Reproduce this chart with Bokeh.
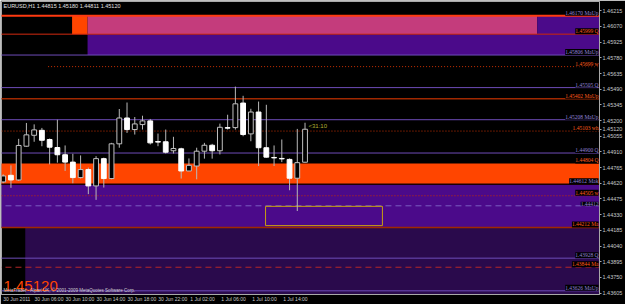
from bokeh.plotting import figure
from bokeh.models import (ColumnDataSource, Range1d, FixedTicker, PrintfTickFormatter,
                          Label, LabelSet)
from bokeh.embed import file_html
from bokeh.resources import INLINE

# ---------------- data ----------------
symbol = "EURUSD,H1"
ohlc_head = [1.44815, 1.45180, 1.44811, 1.45120]

# H1 bars, 30 Jun 2011 02:00 ... 1 Jul 2011 17:00
opens = [1.44633, 1.44694, 1.44651, 1.44963, 1.45064, 1.45110, 1.45025, 1.44951, 1.44884, 1.44816,
         1.44673, 1.44747, 1.44596, 1.44848, 1.44664, 1.44985, 1.45224, 1.45117, 1.45163, 1.45197,
         1.45006, 1.45004, 1.44921, 1.44939, 1.44734, 1.44780, 1.44917, 1.44972, 1.44921, 1.45135,
         1.45135, 1.45362, 1.45077, 1.45279, 1.44949, 1.44859, 1.44850, 1.44841, 1.44667, 1.44815]
highs = [1.44703, 1.44786, 1.45031, 1.45178, 1.45165, 1.45132, 1.45034, 1.45208, 1.44970, 1.44893,
         1.44878, 1.44765, 1.44871, 1.44857, 1.44994, 1.45307, 1.45367, 1.45233, 1.45245, 1.45215,
         1.45080, 1.45117, 1.45050, 1.44949, 1.44850, 1.44949, 1.44994, 1.44985, 1.45172, 1.45254,
         1.45514, 1.45429, 1.45309, 1.45376, 1.45346, 1.44970, 1.45025, 1.44850, 1.45123, 1.45180]
lows = [1.44621, 1.44578, 1.44642, 1.44958, 1.45004, 1.44963, 1.44795, 1.44811, 1.44734, 1.44621,
        1.44664, 1.44520, 1.44467, 1.44581, 1.44657, 1.44949, 1.45086, 1.45071, 1.45117, 1.44979,
        1.44963, 1.44896, 1.44896, 1.44664, 1.44734, 1.44657, 1.44848, 1.44848, 1.44887, 1.45117,
        1.45117, 1.45055, 1.45009, 1.44780, 1.44857, 1.44780, 1.44816, 1.44556, 1.44364, 1.44811]
closes = [1.44688, 1.44651, 1.44970, 1.45068, 1.45114, 1.45018, 1.44954, 1.44884, 1.44816, 1.44673,
          1.44747, 1.44596, 1.44848, 1.44664, 1.44985, 1.45224, 1.45117, 1.45169, 1.45197, 1.44994,
          1.45001, 1.44908, 1.44942, 1.44734, 1.44786, 1.44917, 1.44972, 1.44921, 1.45138, 1.45130,
          1.45355, 1.45071, 1.45279, 1.44949, 1.44862, 1.44855, 1.44846, 1.44667, 1.44811, 1.45120]

time_tick_bars = [0, 4, 8, 12, 16, 20, 24, 28, 32, 36]
time_tick_labels = ["30 Jun 2011", "30 Jun 06:00", "30 Jun 10:00", "30 Jun 14:00", "30 Jun 18:00",
                    "30 Jun 22:00", "1 Jul 02:00", "1 Jul 06:00", "1 Jul 10:00", "1 Jul 14:00"]

price_ticks = [1.46215, 1.46070, 1.45925, 1.45780, 1.45635, 1.45490, 1.45345, 1.45200, 1.45055,
               1.44910, 1.44765, 1.44620, 1.44475, 1.44330, 1.44185, 1.44040, 1.43895, 1.43750,
               1.43605]

# horizontal levels drawn by the indicators
level_prices = [1.46170, 1.45999, 1.45806, 1.45699, 1.45505, 1.45402, 1.45208, 1.45103, 1.44900,
                1.44804, 1.44612, 1.44505, 1.44412, 1.44212, 1.43928, 1.43844, 1.43626]
level_names = ["MaUp", "Q", "MaUp", "w", "Q", "MaUp", "MaUp", "wh", "Q",
               "Q", "Mak", "w", "", "Ma", "Q", "Ma", "MaUp"]
level_kinds = ["top", "edge", "pivot", "dot", "pivot", "ma", "pivot", "dot", "pivot",
               "none", "dark", "dot", "dashp", "ma", "pivot", "dashr", "pivot"]
level_start_bar = [-1, -1, -1, 5.8, -1, -1, -1, -1, -1,
                   -1, -1, -1, -1, -1, -1, -1, -1]

# shaded zones (start bar, end bar, top price, bottom price)
zone_left = [8.9, 10.9, 69.0, 10.9, -1, -1, 2.85]
zone_right = [10.9, 69.0, 90, 90, 90, 90, 90]
zone_top = [1.46170, 1.46170, 1.46170, 1.45999, 1.44804, 1.44612, 1.44212]
zone_bottom = [1.45999, 1.45999, 1.45999, 1.45806, 1.44612, 1.44212, 1.43500]
zone_kind = ["orange", "pink", "indigo", "indigo", "orange", "indigo", "deep"]

# yellow box (bars, prices)
box_left, box_right, box_top, box_bottom = [33.9], [49.0], [1.44407], [1.44229]

# ---------------- styles ----------------
ZONE_COLORS = {"orange": "#ff4500", "pink": "#c43c7c", "indigo": "#4b0a8a", "deep": "#2a0a4c"}
LEVEL_STYLE = {
    "top":   dict(color="#ff3a10", width=2, dash="solid"),
    "edge":  dict(color="#d42a10", width=1, dash="solid"),
    "pivot": dict(color="#6e4cb8", width=1, dash="solid"),
    "dot":   dict(color="#c83000", width=1, dash="1 2"),
    "ma":    dict(color="#a02800", width=1.5, dash="solid"),
    "dark":  dict(color="#1a0004", width=1.5, dash="solid"),
    "dashp": dict(color="#7a5cc0", width=1, dash="6 4"),
    "dashr": dict(color="#b42828", width=1, dash="6 4"),
}
PURPLE_TXT = "#9080d8"
ORANGE_TXT = "#ff5a1a"
LABEL_COLOR = {"top": PURPLE_TXT, "edge": ORANGE_TXT, "pivot": PURPLE_TXT, "dot": ORANGE_TXT,
               "ma": ORANGE_TXT, "dark": PURPLE_TXT, "dashp": PURPLE_TXT, "dashr": ORANGE_TXT,
               "none": ORANGE_TXT}
AX = "#a8a8a8"
AX_TXT = "#c8c8c8"
FONT = "Liberation Sans"
X_LABEL_PX = 5.0

x_start, x_end = -0.22, 77.05
y_start, y_end = 1.43592, 1.46301

p = figure(width=625, height=304, output_backend="svg", toolbar_location=None,
           x_range=Range1d(x_start, x_end), y_range=Range1d(y_start, y_end),
           y_axis_location="right", x_axis_location="below",
           background_fill_color="black", border_fill_color="black",
           min_border_left=1, min_border_top=1, min_border_right=0, min_border_bottom=0)
p.xgrid.visible = False
p.ygrid.visible = False
p.outline_line_color = AX

# zones
zsrc = ColumnDataSource(dict(left=zone_left, right=zone_right, top=zone_top, bottom=zone_bottom,
                             color=[ZONE_COLORS[k] for k in zone_kind]))
p.quad(left="left", right="right", top="top", bottom="bottom", fill_color="color",
       line_color=None, source=zsrc)

# levels
for price, kind, start in zip(level_prices, level_kinds, level_start_bar):
    if kind == "none":
        continue
    st = LEVEL_STYLE[kind]
    p.segment(x0=[start], x1=[90], y0=[price], y1=[price], line_color=st["color"],
              line_width=st["width"], line_dash=st["dash"])

# yellow box
p.quad(left=box_left, right=box_right, top=box_top, bottom=box_bottom, fill_color=None,
       line_color="#c8a010", line_width=1)

# candles
bars = list(range(len(opens)))
bull = [c > o for o, c in zip(opens, closes)]
csrc = ColumnDataSource(dict(
    x=bars, high=highs, low=lows,
    top=[max(o, c) for o, c in zip(opens, closes)],
    bottom=[min(o, c) for o, c in zip(opens, closes)],
    fill=["black" if b else "white" for b in bull],
    line=["#c0c0c0" if b else "white" for b in bull]))
p.segment(x0="x", x1="x", y0="low", y1="high", line_color="#b8b8b8", line_width=1, source=csrc)
p.vbar(x="x", width=0.62, top="top", bottom="bottom", fill_color="fill", line_color="line",
       line_width=1, source=csrc)

# level labels
lsrc = ColumnDataSource(dict(
    x=[x_end] * len(level_prices), y=level_prices,
    text=[f"{v:.5f} {n}".strip() for v, n in zip(level_prices, level_names)],
    color=[LABEL_COLOR[k] for k in level_kinds]))
p.add_layout(LabelSet(x="x", y="y", text="text", source=lsrc, text_align="right",
                      text_baseline="bottom", text_font_size="5.5px", text_font=FONT,
                      text_color="color", background_fill_color="black", x_offset=-1))

# timer next to last candle
p.add_layout(Label(x=bars[-1] + 0.45, y=closes[-1], text="<31:10", text_baseline="bottom",
                   text_align="left", text_font_size="6px", text_font=FONT,
                   text_color="#b0b030"))

# title
p.add_layout(Label(x=x_start, y=y_end, x_offset=2, y_offset=-1,
                   text=symbol + "  " + " ".join(f"{v:.5f}" for v in ohlc_head),
                   text_baseline="top", text_align="left", text_font_size="5.5px",
                   text_font=FONT, text_color="#e0e0e0"))
# big price
p.add_layout(Label(x=x_start, y=y_start, x_offset=2, y_offset=4, text=f"{closes[-1]:.5f}",
                   text_baseline="bottom", text_align="left", text_font_size="15px",
                   text_font=FONT, text_color="#ff4500"))
# copyright
p.add_layout(Label(x=x_start, y=y_start, x_offset=2, y_offset=2,
                   text="MetaTrader - Alpari UK, \u00a9 2001-2009 MetaQuotes Software Corp.",
                   text_baseline="bottom", text_align="left", text_font_size="4.5px",
                   text_font=FONT, text_color="#d0d0d0"))

# ---------------- axes ----------------
ya = p.yaxis[0]
ya.ticker = FixedTicker(ticks=price_ticks + [closes[-1]])
ya.formatter = PrintfTickFormatter(format="%.5f")

# MT4 writes time labels starting at the tick; Bokeh centres them, so the label
# anchor is moved right by half the label's width (in bar units).
px_per_bar = 605.0 / (x_end - x_start)
x_label_pos = [b + 0.5 * len(t) * 0.5 * X_LABEL_PX / px_per_bar
               for b, t in zip(time_tick_bars, time_tick_labels)]
xa = p.xaxis[0]
xa.ticker = FixedTicker(ticks=x_label_pos)
xa.major_label_overrides = {pos: t for pos, t in zip(x_label_pos, time_tick_labels)}
xa.major_tick_out = 0
xa.major_label_text_font_size = f"{X_LABEL_PX}px"
ya.major_tick_out = 2
ya.major_label_text_font_size = "5.5px"
for ax in (xa, ya):
    ax.axis_line_color = AX
    ax.major_tick_line_color = AX
    ax.minor_tick_line_color = None
    ax.major_tick_in = 0
    ax.major_label_standoff = 1
    ax.major_label_text_font = FONT
    ax.major_label_text_color = AX_TXT

open("out.html", "w").write(file_html(p, INLINE))
